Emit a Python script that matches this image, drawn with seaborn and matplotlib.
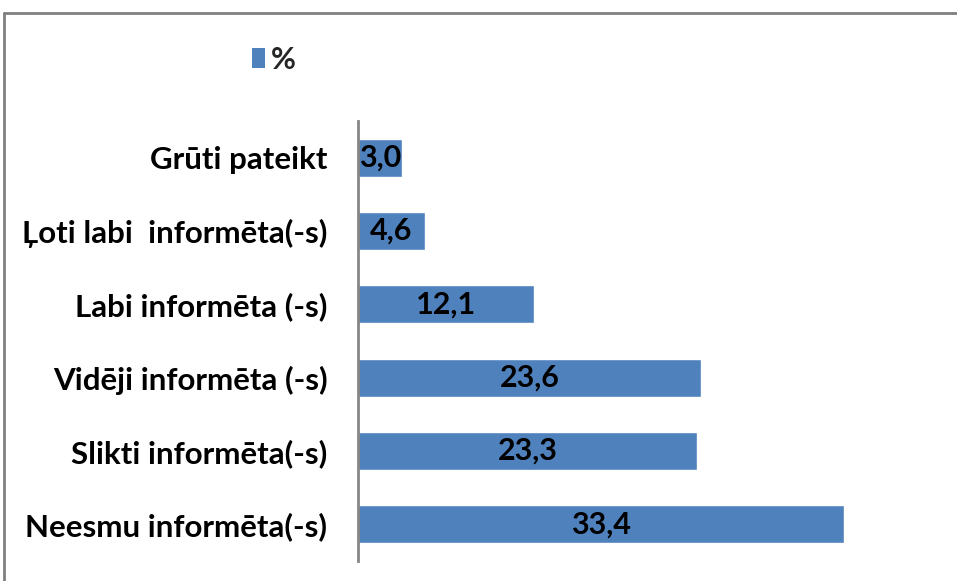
import matplotlib
matplotlib.use("Agg")
import matplotlib.pyplot as plt
import seaborn as sns
import pandas as pd
from matplotlib.patches import Patch
from matplotlib.lines import Line2D

categories = ["Grūti pateikt", "Ļoti labi  informēta(-s)", "Labi informēta (-s)",
              "Vidēji informēta (-s)", "Slikti informēta(-s)", "Neesmu informēta(-s)"]
values = [3.0, 4.6, 12.1, 23.6, 23.3, 33.4]
series_name = "%"

df = pd.DataFrame({"cat": categories, "val": values})

sns.set_theme(style="white")
plt.rcParams["font.family"] = ["Lato", "DejaVu Sans"]

fig = plt.figure(figsize=(9.57, 5.81), dpi=100)
ax = fig.add_axes([358/957, 1 - 561/581, 582/957, 440/581])

bar_color = "#4F81BD"
sns.barplot(data=df, x="val", y="cat", orient="h", color=bar_color,
            width=0.52, ax=ax, saturation=1)

ax.set_xlim(0, 40)
ax.set_ylim(5.5, -0.5)
ax.set_xlabel("")
ax.set_ylabel("")
ax.set_xticks([])
for s in ["top", "right", "bottom"]:
    ax.spines[s].set_visible(False)
ax.spines["left"].set_color("#868686")
ax.spines["left"].set_linewidth(2)
ax.tick_params(axis="y", length=0, pad=22, labelsize=22.5)
for lab in ax.get_yticklabels():
    lab.set_fontweight("bold")
    lab.set_color("black")

for i, v in enumerate(values):
    ax.text(v / 2, i, f"{v:.1f}".replace(".", ","), ha="center", va="center",
            fontsize=22, fontweight="bold", color="black")

# legend
fig.legend(handles=[Patch(facecolor=bar_color, edgecolor="none", label=series_name)],
           loc="center", bbox_to_anchor=(274/957, 1 - 60/581), frameon=False,
           prop={"weight": "bold", "size": 22}, handlelength=0.4,
           handleheight=0.65, handletextpad=0.2)

# chart area border (top and left)
fig.add_artist(Line2D([4/957, 1.0], [1 - 13/581, 1 - 13/581], color="#808080",
                      linewidth=2, transform=fig.transFigure))
fig.add_artist(Line2D([4/957, 4/957], [0, 1 - 13/581], color="#808080",
                      linewidth=2, transform=fig.transFigure))

fig.savefig("out.png", dpi=100)
